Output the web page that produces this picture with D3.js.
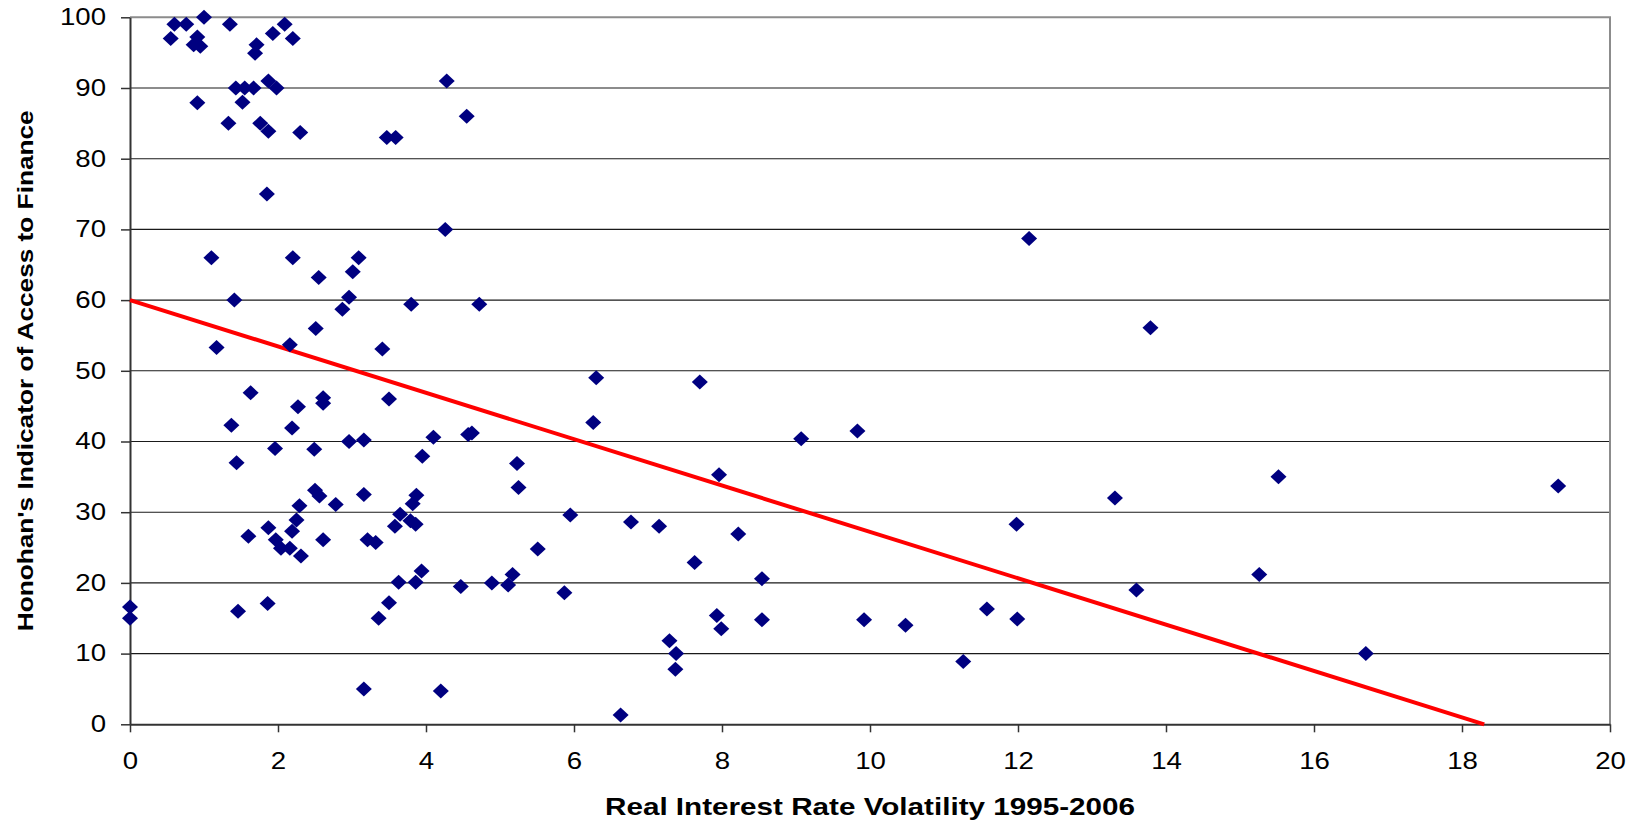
<!DOCTYPE html>
<html>
<head>
<meta charset="utf-8">
<script src="https://cdn.jsdelivr.net/npm/d3@7/dist/d3.min.js"></script>
<style>
  html, body { margin: 0; padding: 0; background: #fff; }
  svg { display: block; }
</style>
</head>
<body>
<svg id="chart" width="1635" height="820"></svg>
<script>
// ---- Data ----
const volatility = [
  0.60, 0.76, 1.00, 1.35, 2.09, 0.55, 0.91, 0.86, 0.95, 1.93,
  2.20, 1.71, 1.69, 1.87, 1.98, 1.43, 1.55, 1.67, 0.91, 1.52,
  1.33, 1.76, 1.87, 2.30, 4.28, 4.55, 3.47, 3.59, 1.85, 4.26,
  1.10, 2.20, 2.55, 3.09, 3.01, 2.96, 2.87, 3.80, 4.72, 1.41,
  2.51, 1.17, 2.16, 3.41, 1.63, 1.37, 2.27, 2.61, 2.61, 2.19,
  3.50, 4.57, 4.62, 1.44, 1.96, 2.49, 2.96, 3.16, 4.10, 3.95,
  5.23, 5.25, 2.50, 2.56, 2.29, 2.78, 3.16, 3.87, 3.82, 3.65,
  3.58, 3.79, 3.86, 2.25, 2.19, 1.87, 1.60, 1.97, 2.04, 2.16,
  2.31, 2.61, 3.21, 3.32, 3.94, 3.63, 3.86, 3.50, 3.36, 4.47,
  4.89, 5.11, 5.17, 1.46, 1.86, 0.00, 0.00, 3.16, 4.20, 6.30,
  7.70, 6.26, 9.07, 9.83, 7.96, 5.95, 6.77, 7.15, 8.22, 5.51,
  7.63, 5.87, 8.54, 7.93, 7.99, 8.54, 9.92, 10.48, 7.29, 7.38,
  7.37, 6.63, 12.15, 13.79, 15.52, 13.31, 11.98, 15.26, 13.60, 11.58,
  11.99, 11.26, 19.30, 16.70
];
const accessIndicator = [
  99, 99, 100, 99, 99, 97, 97.2, 96.1, 95.9, 97.7,
  97.0, 96.1, 94.9, 91.0, 90.0, 90, 90, 90, 87.9, 88.0,
  85.0, 85.0, 83.9, 83.7, 91, 86, 83, 83, 75, 70,
  66, 66, 63.2, 66, 64.0, 60.4, 58.7, 59.4, 59.4, 60,
  56.0, 53.3, 53.7, 53.1, 46.9, 42.3, 44.9, 46.2, 45.4, 41.9,
  46.0, 41.0, 41.2, 37.0, 39.0, 38.9, 40.0, 40.2, 40.6, 37.9,
  36.9, 33.5, 33.1, 32.3, 30.9, 31.1, 32.5, 32.4, 31.2, 29.7,
  28.0, 28.8, 28.3, 28.9, 27.3, 27.8, 26.6, 26.1, 24.9, 24.9,
  23.8, 26.1, 26.1, 25.7, 21.7, 20.1, 20.1, 17.2, 15.0, 19.5,
  20.0, 19.7, 21.2, 16.0, 17.1, 16.6, 15.0, 5.0, 4.7, 49.0,
  48.4, 42.7, 40.4, 41.5, 35.3, 29.6, 28.6, 28.0, 26.9, 24.8,
  22.9, 18.6, 20.6, 15.4, 13.5, 14.8, 14.8, 14.0, 11.8, 10.0,
  7.8, 1.3, 68.7, 56.1, 35.0, 32.0, 28.3, 21.2, 19.0, 16.3,
  14.9, 8.9, 33.7, 10.0
];
// Linear trend line (endpoints as drawn)
const trendX = [0, 18.3];
const trendY = [60, 0];

const xTicks = [0, 2, 4, 6, 8, 10, 12, 14, 16, 18, 20];
const yTicks = [0, 10, 20, 30, 40, 50, 60, 70, 80, 90, 100];
const xTitle = "Real Interest Rate Volatility 1995-2006";
const yTitle = "Honohan's Indicator of Access to Finance";

// ---- Layout ----
const svg = d3.select("#chart");
const pLeft = 130, pRight = 1610, pTop = 17.3, pBottom = 724.3;
const x = d3.scaleLinear().domain([0, 20]).range([pLeft, pRight]);
const y = d3.scaleLinear().domain([0, 100]).range([pBottom, pTop]);
const FONT = "'Liberation Sans', Arial, Helvetica, sans-serif";
const STRETCH = 1.2;

function stretchText(sel, factor) {
  sel.each(function () {
    const len = this.getComputedTextLength();
    d3.select(this).attr("textLength", len * factor).attr("lengthAdjust", "spacingAndGlyphs");
  });
}

// Gridlines
svg.append("g")
  .selectAll("line")
  .data(yTicks.filter(v => v > 0 && v < 100))
  .join("line")
  .attr("x1", pLeft).attr("x2", pRight)
  .attr("y1", d => y(d)).attr("y2", d => y(d))
  .attr("stroke", "#1a1a1a").attr("stroke-width", 1.1);

// Plot area border (top & right) in gray
svg.append("path")
  .attr("d", `M${x(0)},${y(100)}H${x(20)}V${y(0)}`)
  .attr("fill", "none").attr("stroke", "#8c8c8c").attr("stroke-width", 2);

// Axes
const xAxis = svg.append("g")
  .attr("transform", `translate(0,${pBottom})`)
  .call(d3.axisBottom(x).tickValues(xTicks).tickFormat(d3.format("d")).tickSize(8).tickPadding(20).tickSizeOuter(0));
const yAxis = svg.append("g")
  .attr("transform", `translate(${pLeft},0)`)
  .call(d3.axisLeft(y).tickValues(yTicks).tickFormat(d3.format("d")).tickSize(9).tickPadding(15).tickSizeOuter(0));

[xAxis, yAxis].forEach(g => {
  g.select(".domain").attr("stroke", "#333").attr("stroke-width", 2);
  g.selectAll(".tick line").attr("stroke", "#333").attr("stroke-width", 1.5);
  g.selectAll(".tick text")
    .attr("font-family", FONT).attr("font-size", 23).attr("fill", "#000");
});
xAxis.selectAll(".tick text").call(stretchText, STRETCH);
yAxis.selectAll(".tick text").call(stretchText, STRETCH);

// Trend line
const trendData = trendX.map((v, i) => [v, trendY[i]]);
svg.append("path")
  .datum(trendData)
  .attr("d", d3.line().x(d => x(d[0])).y(d => y(d[1])))
  .attr("fill", "none").attr("stroke", "#ff0000").attr("stroke-width", 4);

// Markers (diamonds)
const points = volatility.map((v, i) => ({ x: v, y: accessIndicator[i] }));
const diamond = "M0,-7.5L8,0L0,7.5L-8,0Z";
svg.append("g")
  .selectAll("path")
  .data(points)
  .join("path")
  .attr("d", diamond)
  .attr("transform", d => `translate(${x(d.x)},${y(d.y)})`)
  .attr("fill", "#000080");

// Axis titles
svg.append("text")
  .attr("x", (pLeft + pRight) / 2).attr("y", 815)
  .attr("text-anchor", "middle")
  .attr("font-family", FONT).attr("font-weight", "bold").attr("font-size", 24)
  .attr("textLength", 530).attr("lengthAdjust", "spacingAndGlyphs")
  .text(xTitle);

svg.append("text")
  .attr("transform", `translate(33,${(pTop + pBottom) / 2}) rotate(-90)`)
  .attr("text-anchor", "middle")
  .attr("font-family", FONT).attr("font-weight", "bold").attr("font-size", 22)
  .attr("textLength", 521).attr("lengthAdjust", "spacingAndGlyphs")
  .text(yTitle);
</script>
</body>
</html>
